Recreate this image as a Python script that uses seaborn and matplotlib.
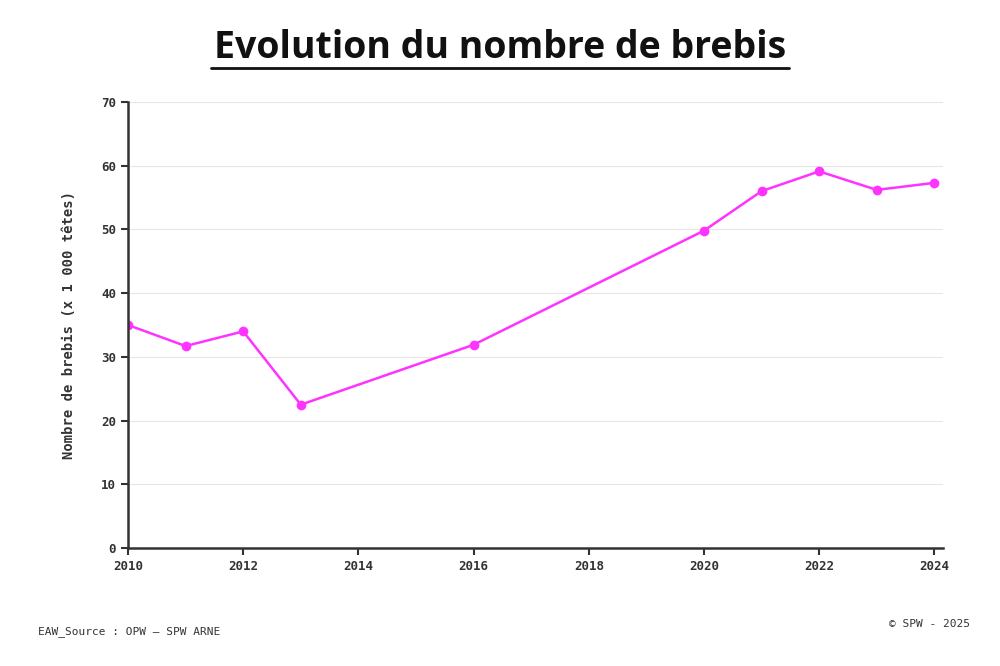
import matplotlib
matplotlib.use('Agg')
import matplotlib.pyplot as plt
import seaborn as sns
import pandas as pd

sns.set_style('ticks')

years = [2010, 2011, 2012, 2013, 2016, 2020, 2021, 2022, 2023, 2024]
brebis = [35.0, 31.7, 34.0, 22.5, 31.9, 49.8, 56.0, 59.1, 56.2, 57.3]
xticks = [2010, 2012, 2014, 2016, 2018, 2020, 2022, 2024]
yticks = [0, 10, 20, 30, 40, 50, 60, 70]

df = pd.DataFrame({'annee': years, 'brebis': brebis})

fig = plt.figure(figsize=(10, 6.66), dpi=100)
ax = fig.add_axes([0.128, 0.177, 0.815, 0.67])
sns.lineplot(data=df, x='annee', y='brebis', ax=ax, color='#ff33ff',
             marker='o', markersize=7, markeredgewidth=0, linewidth=1.8)

ax.set_xlim(2010, 2024.15)
ax.set_ylim(0, 70)
ax.set_xticks(xticks)
ax.set_yticks(yticks)
mono = {'family': 'DejaVu Sans Mono', 'weight': 'bold', 'size': 9, 'color': '#333333'}
ax.set_xticklabels([str(t) for t in xticks], fontdict=mono)
ax.set_yticklabels([str(t) for t in yticks], fontdict=mono)
ax.grid(axis='y', color='#e6e6e6', linewidth=0.8)
for s in ['top', 'right']:
    ax.spines[s].set_visible(False)
for s in ['left', 'bottom']:
    ax.spines[s].set_linewidth(1.8)
    ax.spines[s].set_color('#333333')
ax.tick_params(width=1.5, length=5, color='#333333')
ax.set_xlabel('')
ax.set_ylabel('Nombre de brebis (x 1 000 têtes)', fontdict={**mono, 'size': 10}, labelpad=18)

fig.text(0.5, 0.928, 'Evolution du nombre de brebis', ha='center', va='center',
         family='Open Sans', weight='bold', size=27, color='#111111')
fig.add_artist(plt.Line2D([0.211, 0.789], [0.898, 0.898], color='#111111', linewidth=2))
fig.text(0.038, 0.048, 'EAW_Source : OPW – SPW ARNE', family='DejaVu Sans Mono', size=8, color='#333333')
fig.text(0.97, 0.058, '© SPW - 2025', family='DejaVu Sans Mono', size=8, color='#333333', ha='right')

fig.savefig('out.png', dpi=100)
